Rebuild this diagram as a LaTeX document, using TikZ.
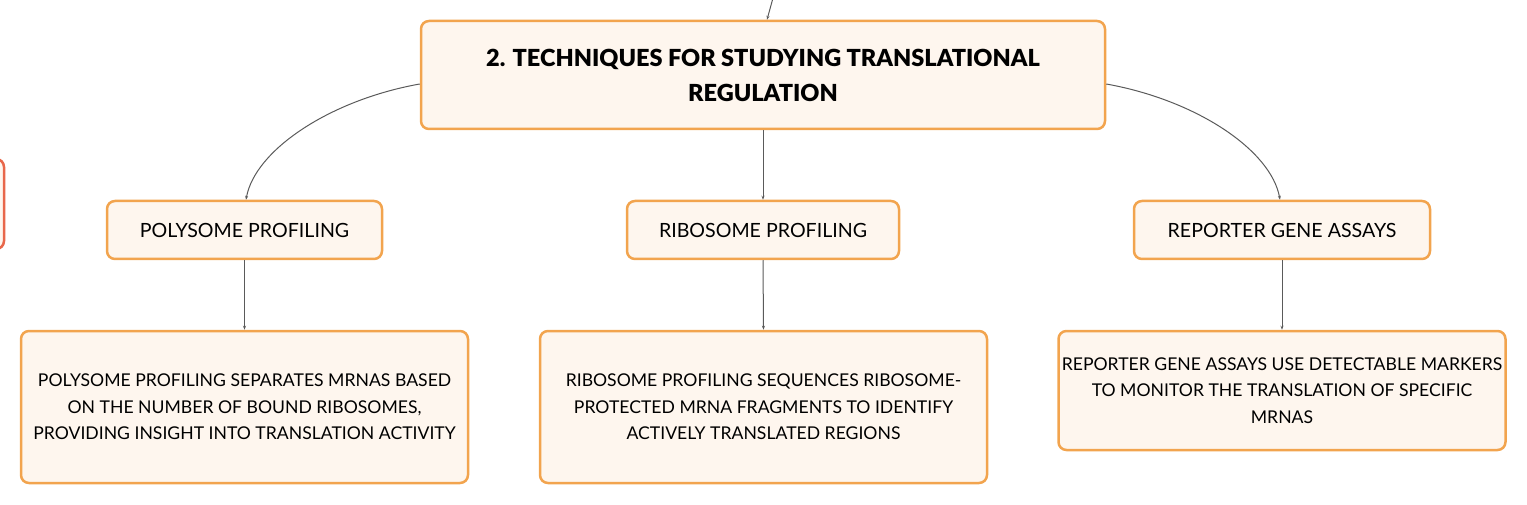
\documentclass[tikz,border=0pt]{standalone}
\usepackage{fontspec}
\setmainfont{Lato}[BoldFont={Lato Black}]
\usetikzlibrary{arrows.meta}
\definecolor{boxborder}{HTML}{F2A44E}
\definecolor{boxfill}{HTML}{FEF6EE}
\definecolor{redborder}{HTML}{E8674A}
\definecolor{linkgray}{HTML}{5A5A5A}
\tikzset{
  base/.style={draw=boxborder, fill=boxfill, line width=2.5pt, rounded corners=8pt, inner sep=0pt, align=center, text=black},
  titlebox/.style={base, minimum width=684pt, minimum height=108pt, font=\fontsize{23.5}{35}\selectfont\bfseries},
  labelbox/.style={base, minimum height=58pt, font=\fontsize{19.6}{22}\selectfont},
  descbox/.style={base, minimum width=447pt, font=\fontsize{17.6}{26.5}\selectfont},
  link/.style={draw=linkgray, line width=1pt, -{Stealth[length=4pt,width=3pt]}},
}
\begin{document}
\begin{tikzpicture}[x=1pt,y=-1pt]
\useasboundingbox (0,0) rectangle (1527,505);
\node[base, draw=redborder, minimum width=40pt, minimum height=90pt] (side) at (-16,204) {};
\node[titlebox] (title) at (763,75) {2. TECHNIQUES FOR STUDYING TRANSLATIONAL\\REGULATION};
\node[labelbox, minimum width=275pt] (poly) at (244.5,230) {POLYSOME PROFILING};
\node[labelbox, minimum width=272pt] (ribo) at (763,230) {RIBOSOME PROFILING};
\node[labelbox, minimum width=296pt] (rep) at (1282,230) {REPORTER GENE ASSAYS};
\node[descbox, minimum height=152pt] (polyd) at (244.5,407) {POLYSOME PROFILING SEPARATES MRNAS BASED\\ON THE NUMBER OF BOUND RIBOSOMES,\\PROVIDING INSIGHT INTO TRANSLATION ACTIVITY};
\node[descbox, minimum height=152pt] (ribod) at (763.5,407) {RIBOSOME PROFILING SEQUENCES RIBOSOME-\\PROTECTED MRNA FRAGMENTS TO IDENTIFY\\ACTIVELY TRANSLATED REGIONS};
\node[descbox, minimum height=119pt] (repd) at (1282,390.5) {REPORTER GENE ASSAYS USE DETECTABLE MARKERS\\TO MONITOR THE TRANSLATION OF SPECIFIC\\MRNAS};
\coordinate (top) at (773,-2);
\draw[link] (top) -- ([xshift=4pt]title.north);
\draw[link] ([yshift=-9pt]title.west) .. controls (330,100) and (255,150) .. ([xshift=1.5pt]poly.north);
\draw[link] ([yshift=-9pt]title.east) .. controls (1196,100) and (1271,150) .. ([xshift=-2pt]rep.north);
\draw[link] (title.south) -- (ribo.north);
\draw[link] (poly.south) -- (polyd.north);
\draw[link] (ribo.south) -- (ribod.north);
\draw[link] (rep.south) -- (repd.north);
\end{tikzpicture}
\end{document}
